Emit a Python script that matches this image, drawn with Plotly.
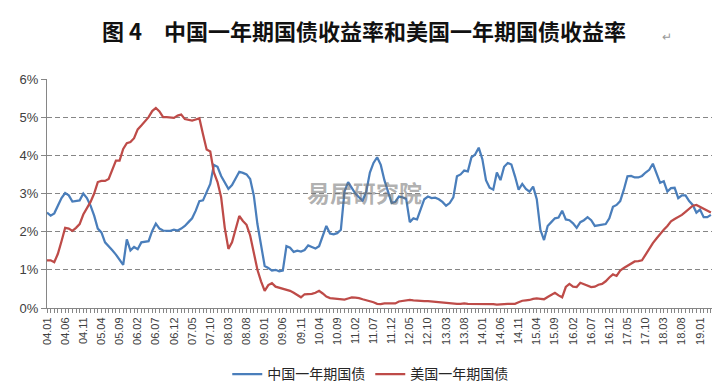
import plotly.graph_objects as go

tick_labels = ["04.01", "04.06", "04.11", "05.04", "05.09", "06.02", "06.07", "06.12",
               "07.05", "07.10", "08.03", "08.08", "09.01", "09.06", "09.11", "10.04",
               "10.09", "11.02", "11.07", "11.12", "12.05", "12.10", "13.03", "13.08",
               "14.01", "14.06", "14.11", "15.04", "15.09", "16.02", "16.07", "16.12",
               "17.05", "17.10", "18.03", "18.08", "19.01"]

china_1y = [
    2.50, 2.42, 2.48, 2.70, 2.88, 3.01, 2.95, 2.79, 2.80, 2.82,
    3.00, 2.88, 2.68, 2.42, 2.08, 1.98, 1.72, 1.60, 1.51, 1.40,
    1.27, 1.13, 1.80, 1.51, 1.60, 1.54, 1.72, 1.73, 1.75, 2.02,
    2.21, 2.08, 2.03, 2.02, 2.02, 2.05, 2.03, 2.08, 2.15, 2.25,
    2.35, 2.55, 2.80, 2.82, 3.03, 3.25, 3.75, 3.70, 3.46, 3.28,
    3.12, 3.22, 3.40, 3.57, 3.54, 3.50, 3.38, 2.95, 2.20, 1.60,
    1.10, 1.05, 0.98, 1.00, 0.96, 0.98, 1.62, 1.58, 1.47, 1.50,
    1.48, 1.52, 1.64, 1.60, 1.56, 1.62, 1.90, 2.15, 1.95, 1.93,
    1.96, 2.05, 3.05, 3.30, 3.15, 3.00, 2.90, 2.81, 3.05, 3.55,
    3.80, 3.95, 3.75, 3.35, 3.05, 2.75, 2.78, 2.92, 2.90, 2.86,
    2.25, 2.35, 2.32, 2.60, 2.85, 2.92, 2.88, 2.89, 2.85, 2.78,
    2.68, 2.75, 2.90, 3.45, 3.50, 3.60, 3.58, 3.95, 4.02, 4.20,
    3.90, 3.35, 3.15, 3.10, 3.55, 3.35, 3.70, 3.80, 3.76, 3.45,
    3.10, 3.25, 3.12, 3.05, 3.18, 2.85, 2.05, 1.78, 2.15, 2.25,
    2.35, 2.37, 2.55, 2.32, 2.30, 2.22, 2.10, 2.25, 2.30, 2.38,
    2.30, 2.15, 2.17, 2.18, 2.20, 2.35, 2.65, 2.70, 2.80, 3.10,
    3.45, 3.46, 3.42, 3.42, 3.46, 3.55, 3.62, 3.78, 3.50, 3.28,
    3.32, 3.05, 3.14, 3.15, 2.88, 2.95, 2.95, 2.80, 2.70, 2.50,
    2.58, 2.38, 2.38, 2.44,
]

us_1y = [
    1.25, 1.25, 1.20, 1.42, 1.75, 2.10, 2.08, 2.02, 2.10, 2.20,
    2.45, 2.62, 2.78, 3.00, 3.30, 3.33, 3.33, 3.38, 3.64, 3.86,
    3.86, 4.17, 4.32, 4.35, 4.45, 4.68, 4.78, 4.88, 5.00, 5.16,
    5.24, 5.15, 5.00, 5.00, 4.98, 4.98, 5.04, 5.07, 4.95, 4.93,
    4.91, 4.94, 4.97, 4.55, 4.15, 4.10, 3.55, 3.30, 2.90, 2.10,
    1.55, 1.72, 2.05, 2.41, 2.28, 2.18, 1.90, 1.40, 1.00, 0.70,
    0.45, 0.60, 0.65, 0.56, 0.53, 0.52, 0.48, 0.45, 0.40, 0.35,
    0.28, 0.36, 0.36, 0.37, 0.40, 0.45, 0.38, 0.30, 0.26, 0.25,
    0.24, 0.23, 0.22, 0.25, 0.28, 0.27, 0.26, 0.23, 0.21, 0.18,
    0.15, 0.11, 0.10, 0.12, 0.12, 0.13, 0.12, 0.17, 0.19, 0.20,
    0.21, 0.20, 0.19, 0.18, 0.18, 0.18, 0.17, 0.17, 0.16, 0.15,
    0.13, 0.12, 0.11, 0.11, 0.11, 0.12, 0.11, 0.11, 0.11, 0.11,
    0.11, 0.11, 0.10, 0.10, 0.09, 0.10, 0.10, 0.11, 0.11, 0.11,
    0.15, 0.19, 0.20, 0.21, 0.24, 0.25, 0.24, 0.23, 0.29, 0.34,
    0.40, 0.33, 0.28, 0.55, 0.63, 0.56, 0.55, 0.66, 0.62, 0.60,
    0.55, 0.56, 0.61, 0.63, 0.70, 0.80, 0.88, 0.84, 0.98, 1.05,
    1.10, 1.17, 1.22, 1.23, 1.25, 1.40, 1.56, 1.70, 1.82, 1.95,
    2.05, 2.15, 2.27, 2.33, 2.38, 2.44, 2.52, 2.60, 2.68, 2.70,
    2.65, 2.60, 2.57, 2.50,
]

months = list(range(len(china_1y)))
tick_positions = list(range(0, 5 * len(tick_labels), 5))

fig = go.Figure()
fig.add_trace(go.Scatter(x=months, y=china_1y, mode="lines", name="中国一年期国债",
                         line=dict(color="#4A7EBB", width=2.25)))
fig.add_trace(go.Scatter(x=months, y=us_1y, mode="lines", name="美国一年期国债",
                         line=dict(color="#BE4B48", width=2.25)))

axis_grey = "#868686"
fig.update_layout(
    width=726, height=388,
    margin=dict(l=47, r=14, t=79, b=80, autoexpand=False),
    paper_bgcolor="white", plot_bgcolor="white",
    font=dict(family="Noto Sans CJK SC, Arial, sans-serif", color="#404040"),
    showlegend=True,
    legend=dict(orientation="h", xref="container", yref="container",
                x=0.51, xanchor="center", y=0.035, yanchor="middle",
                font=dict(size=14, color="#262626", family="Noto Sans CJK SC, sans-serif"),
                itemwidth=30, tracegroupgap=0, bgcolor="rgba(0,0,0,0)"),
    xaxis=dict(range=[0, 183.3], tickmode="array", tickvals=tick_positions, ticktext=tick_labels,
               tickangle=-90, ticks="outside", ticklen=4, tickcolor=axis_grey,
               minor=dict(dtick=1, tick0=0, ticks="outside", ticklen=4, tickcolor=axis_grey,
                          showgrid=False),
               showline=True, linecolor=axis_grey, linewidth=1, showgrid=False, zeroline=False,
               automargin=False,
               tickfont=dict(size=11, family="Liberation Sans Narrow, Arial Narrow, Arial, sans-serif",
                             color="#404040"),
               fixedrange=True),
    yaxis=dict(range=[0, 6], dtick=1, ticksuffix="%", ticks="outside", ticklen=5,
               tickcolor=axis_grey, showline=True, linecolor=axis_grey, linewidth=1,
               showgrid=True, gridcolor=axis_grey, griddash="5px,3px", gridwidth=1,
               zeroline=False, automargin=False,
               tickfont=dict(size=13, family="Liberation Sans, Arial, sans-serif", color="#404040"),
               fixedrange=True),
)

fig.add_annotation(xref="paper", yref="paper", x=0.0797, y=1.214, xanchor="left", yanchor="middle",
                   text="图 4　中国一年期国债收益率和美国一年期国债收益率", showarrow=False,
                   font=dict(size=22, color="#111111", family="Noto Sans CJK SC, sans-serif", weight="bold"))
fig.add_annotation(xref="paper", yref="paper", x=0.922, y=1.19, xanchor="left", yanchor="middle",
                   text="↵", showarrow=False, font=dict(size=12, color="#999999"))
fig.add_annotation(xref="paper", yref="paper", x=0.478, y=0.505, xanchor="center", yanchor="middle",
                   text="易居研究院", showarrow=False,
                   font=dict(size=23, color="rgba(110,110,110,0.55)",
                             family="Noto Sans CJK SC, sans-serif", weight="bold"))

fig.write_html("out.html", config={"displayModeBar": False},
               post_script="document.body.style.margin='0';document.body.style.overflow='hidden';")
